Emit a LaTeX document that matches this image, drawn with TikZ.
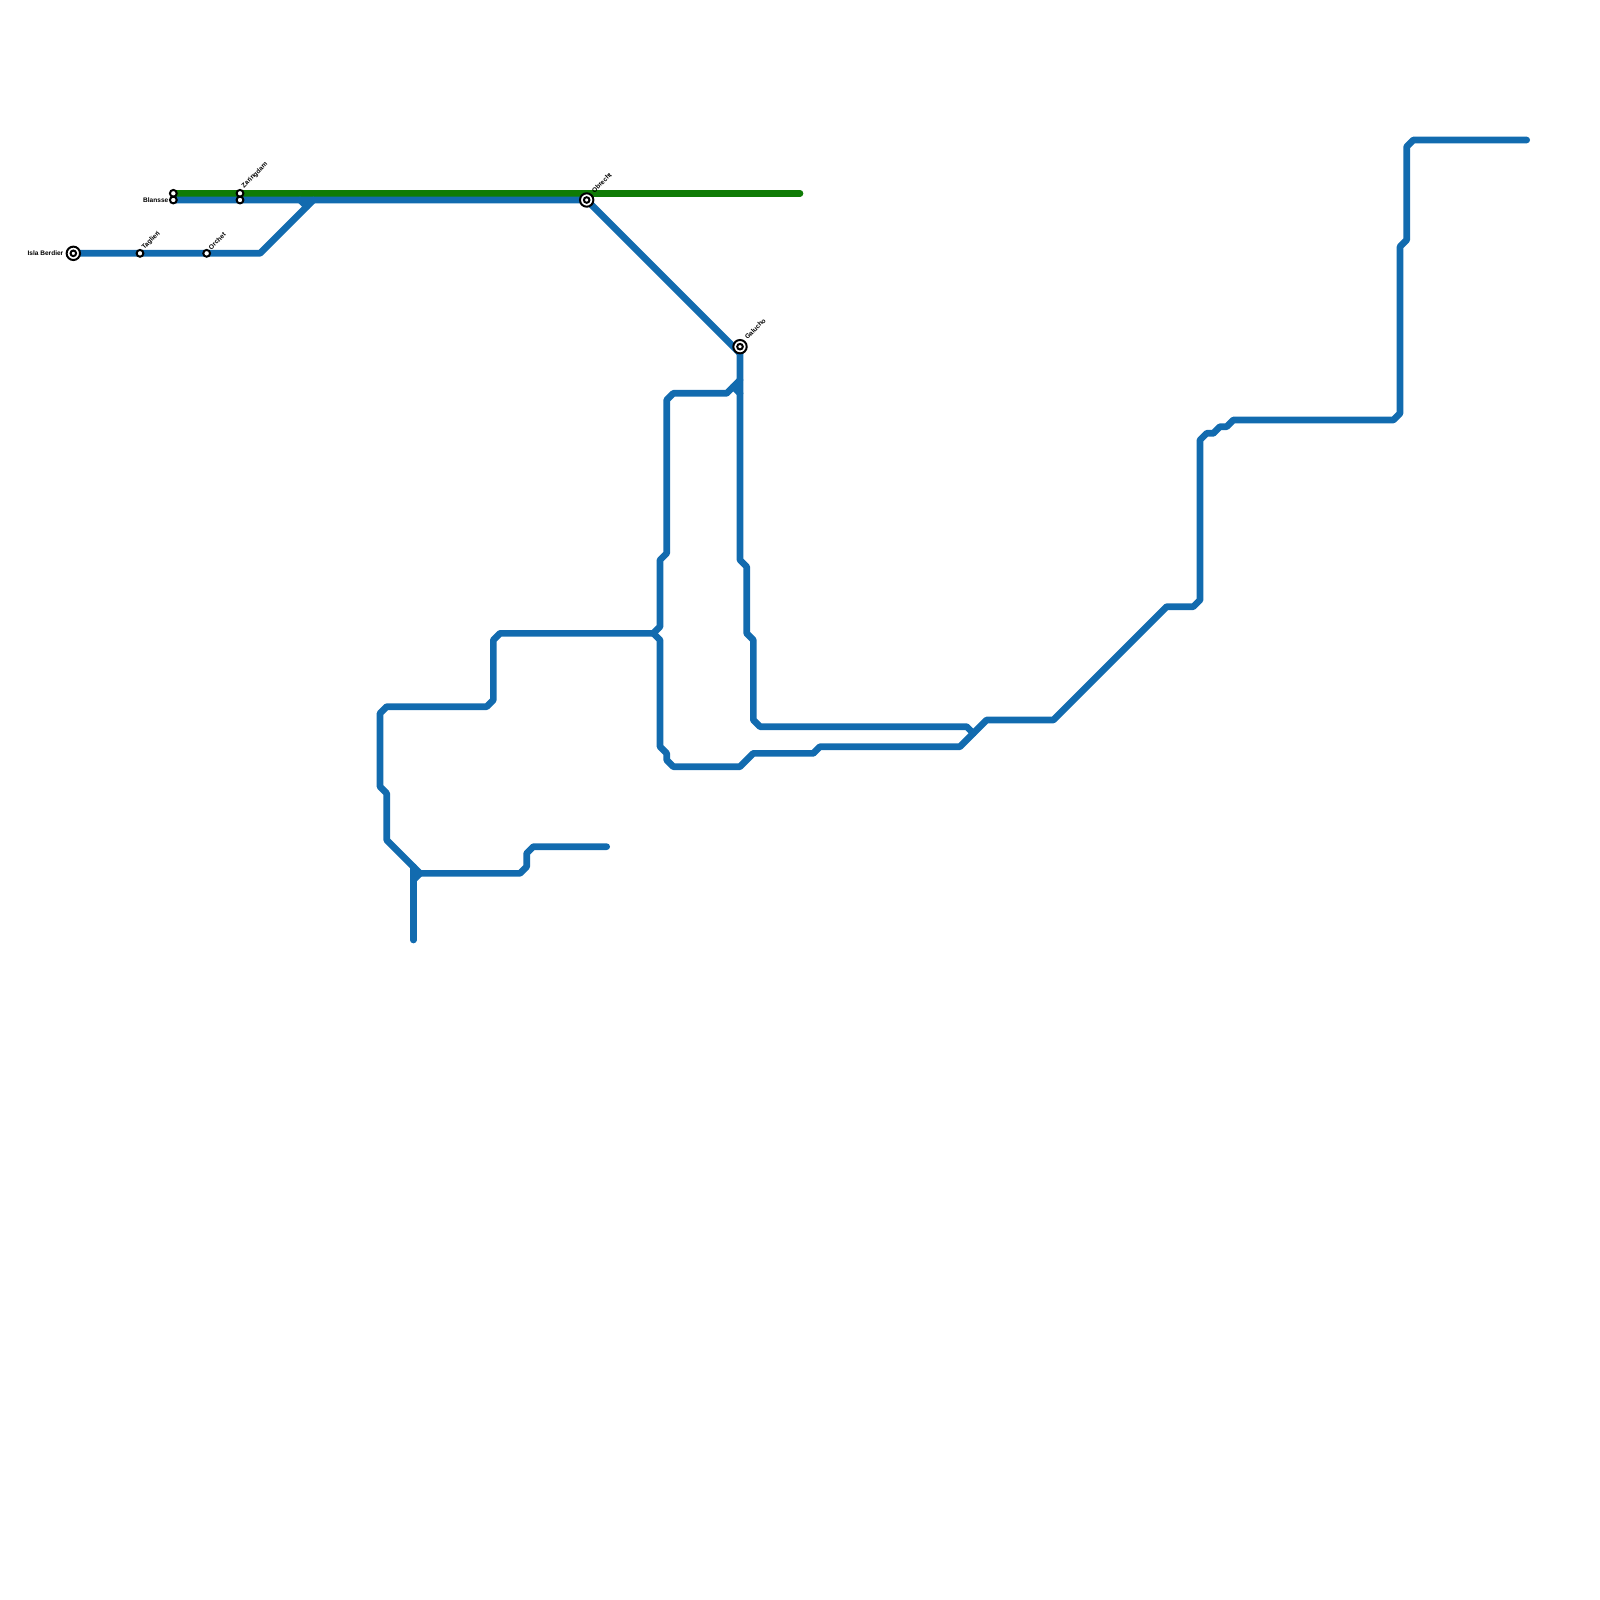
\documentclass[tikz,border=0pt]{standalone}
\usepackage{fontspec}
\setmainfont{Liberation Sans}
\usetikzlibrary{backgrounds}
\tikzset{
  x=1pt,y=-1pt,
  blueline/.style={draw=lineblue,line width=6.67pt,line cap=round,line join=round},
  greenline/.style={draw=linegreen,line width=6.67pt,line cap=round,line join=round},
  smallstn/.style={circle,draw=black,fill=white,line width=2pt,minimum size=6.8pt,inner sep=0pt,outer sep=0pt},
  bigstn/.style={circle,draw=black,fill=white,line width=2pt,minimum size=13.4pt,inner sep=0pt,outer sep=0pt,
    path picture={\draw[black,line width=2pt] (path picture bounding box.center) circle[radius=2.8pt];}},
  lbl/.style={font=\bfseries\fontsize{6.55}{7}\selectfont,text=black,inner sep=0pt},
  lblr/.style={lbl,rotate=45,anchor=west},
  lbll/.style={lbl,anchor=east},
}
\definecolor{lineblue}{HTML}{126BAF}
\definecolor{linegreen}{HTML}{0F7B06}
\begin{document}
\begin{tikzpicture}
\useasboundingbox (0,0) rectangle (1600,1600);
\node[bigstn] (isla) at (73.33,253.33) {};
\node[smallstn] (tag) at (140,253.33) {};
\node[smallstn] (orc) at (206.67,253.33) {};
\node[smallstn] (blag) at (173.33,193.33) {};
\node[smallstn] (blab) at (173.33,200) {};
\node[smallstn] (zarg) at (240,193.33) {};
\node[smallstn] (zarb) at (240,200) {};
\node[bigstn] (obr) at (586.67,200) {};
\node[bigstn] (gal) at (740,346.67) {};
\coordinate (gend) at (800,193.33);
\node[lbll] (tisla) at (63.5,252.8) {Isla Berdier};
\node[lbll] (tbla) at (168.5,200) {Blansse};
\node[lblr] (ttag) at (143,248.8) {Taglieri};
\node[lblr] (torc) at (209.5,248.8) {Orchet};
\node[lblr] (tzar) at (242.8,187.3) {Zaringdam};
\node[lblr] (tobr) at (592.7,191.8) {Obrecht};
\node[lblr] (tgal) at (745.8,338.3) {Galucho};
% way points
\coordinate (a1) at (260,253.33);
\coordinate (a2) at (313.33,200);
\coordinate (a3) at (306.67,206.67);
\coordinate (a4) at (300,200);
\coordinate (b1) at (733.33,346.67);
\coordinate (b2) at (740,353.33);
\coordinate (j1) at (740,380);
\coordinate (j2) at (733.33,386.67);
\coordinate (j3) at (740,393.33);
\begin{scope}[on background layer]
\draw[greenline] (blag.center) -- (zarg.center) -- (gend);
\draw[blueline] (isla.center) -- (tag.center) -- (orc.center) -- (a1) -- (a2);
\draw[blueline] (a4) -- (a3);
\draw[blueline] (blab.center) -- (zarb.center) -- (obr.center) -- (b1) -- (b2);
\draw[blueline] (gal.center) -- (740,560) -- (746.67,566.67) -- (746.67,633.33) -- (753.33,640) -- (753.33,720) -- (760,726.67) -- (966.67,726.67) -- (973.33,733.33);
\draw[blueline] (j2) -- (j3);
\draw[blueline] (j1) -- (726.67,393.33) -- (673.33,393.33) -- (666.67,400) -- (666.67,553.33) -- (660,560) -- (660,626.67) -- (653.33,633.33) -- (500,633.33) -- (493.33,640) -- (493.33,700) -- (486.67,706.67) -- (386.67,706.67) -- (380,713.33) -- (380,786.67) -- (386.67,793.33) -- (386.67,840) -- (420,873.33) -- (520,873.33) -- (526.67,866.67) -- (526.67,853.33) -- (533.33,846.67) -- (606.67,846.67);
\draw[blueline] (413.33,866.67) -- (413.33,940);
\draw[blueline] (413.33,880) -- (420,873.33);
\draw[blueline] (653.33,633.33) -- (660,640) -- (660,746.67) -- (666.67,753.33) -- (666.67,760) -- (673.33,766.67) -- (740,766.67) -- (753.33,753.33) -- (813.33,753.33) -- (820,746.67) -- (960,746.67) -- (986.67,720) -- (1053.33,720) -- (1166.67,606.67) -- (1193.33,606.67) -- (1200,600) -- (1200,440) -- (1206.67,433.33) -- (1213.33,433.33) -- (1220,426.67) -- (1226.67,426.67) -- (1233.33,420) -- (1393.33,420) -- (1400,413.33) -- (1400,246.67) -- (1406.67,240) -- (1406.67,146.67) -- (1413.33,140) -- (1526.67,140);
\end{scope}
\end{tikzpicture}
\end{document}
